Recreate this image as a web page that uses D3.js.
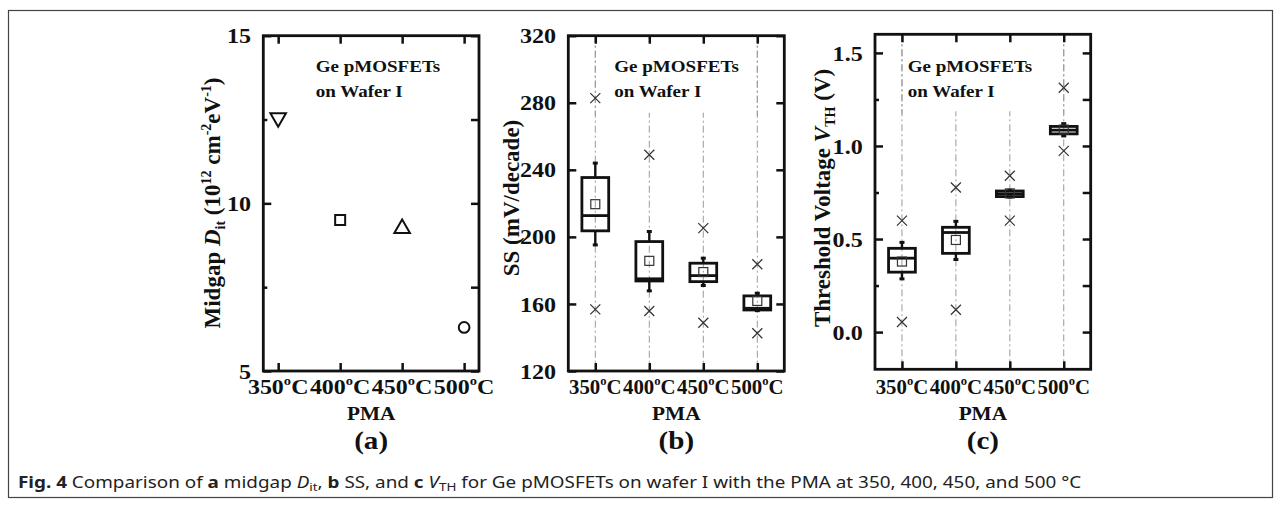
<!DOCTYPE html>
<html>
<head>
<meta charset="utf-8">
<script src="https://cdn.jsdelivr.net/npm/d3@7"></script>
<style>
  body { margin: 0; background: #fff; }
  svg text { font-family: "Liberation Serif", "Times New Roman", serif; font-weight: bold; fill: #111; }
</style>
</head>
<body>
<svg id="chart" width="1281" height="508"></svg>
<script>
// PMA temperatures (categories, same for all three panels)
var temps = ["350", "400", "450", "500"];

// (a) midgap Dit, 10^12 cm^-2 eV^-1
var ditValues = [12.55, 9.5, 9.25, 6.3];
var ditMarkers = ["triDown", "square", "triUp", "circle"];

// (b) SS in mV/decade: whiskers, box, median, mean, min/max crosses
var ssLo   = [195.2, 167.8, 171.0, 156.0];
var ssQ1   = [203.6, 173.7, 173.3, 156.4];
var ssMed  = [212.7, 175.0, 176.9, 157.4];
var ssQ3   = [235.4, 197.2, 184.3, 164.8];
var ssHi   = [244.0, 203.2, 187.3, 166.4];
var ssMean = [219.5, 185.7, 179.0, 161.8];
var ssMin  = [156.8, 155.8, 148.8, 142.5];
var ssMax  = [282.8, 249.0, 205.2, 183.7];

// (c) threshold voltage in V
var vtLo   = [0.286, 0.39, 0.725, 1.054];
var vtQ1   = [0.322, 0.423, 0.728, 1.065];
var vtMed  = [0.397, 0.535, 0.743, 1.085];
var vtQ3   = [0.45, 0.563, 0.758, 1.105];
var vtHi   = [0.482, 0.595, 0.762, 1.12];
var vtMean = [0.379, 0.495, 0.745, 1.088];
var vtMin  = [0.054, 0.12, 0.599, 0.974];
var vtMax  = [0.599, 0.777, 0.84, 1.313];

var svg = d3.select("#chart");
svg.append("rect").attr("width", 1281).attr("height", 508).attr("fill", "#fff");

// figure frame
svg.append("rect")
  .attr("x", 8.5).attr("y", 10.5)
  .attr("width", 1264).attr("height", 487)
  .attr("fill", "none").attr("stroke", "#444").attr("stroke-width", 1.2);

var SX = 1.12; // horizontal stretch of the original serif lettering

function addRich(text, parts) {
  var cur = 0;
  parts.forEach(function(pt) {
    var ts = text.append("tspan").text(pt.t);
    var sh = pt.shift || 0;
    if (sh !== cur) { ts.attr("dy", sh - cur); cur = sh; }
    if (pt.size) ts.style("font-size", pt.size + "px");
    if (pt.italic) ts.style("font-style", "italic");
    if (pt.normal) ts.style("font-weight", "normal");
    if (pt.bold) ts.style("font-weight", "bold");
  });
}

function drawPanel(p) {
  var x = d3.scaleLinear().domain(p.xDomain).range([p.left, p.left + p.width]);
  var y = d3.scaleLinear().domain(p.yDomain).range([p.top + p.height, p.top]);
  var g = svg.append("g");
  var idx = d3.range(temps.length);

  if (p.grid) {
    g.selectAll("line.grid").data(idx).join("line")
      .attr("class", "grid")
      .attr("x1", function(i) { return x(i); }).attr("x2", function(i) { return x(i); })
      .attr("y1", p.top).attr("y2", p.top + p.height)
      .attr("stroke", "#9a9a9a").attr("stroke-width", 1)
      .attr("stroke-dasharray", "7,3,2,3");
  }

  // white patch behind the in-plot title (hides the grid lines there)
  g.append("rect")
    .attr("x", p.left + p.titleX - 4).attr("y", p.top + 3)
    .attr("width", 124).attr("height", 74)
    .attr("fill", "#fff");
  if (p.grid) {
    g.selectAll("line.grid2").data(idx.filter(function(i) { return x(i) < p.left + p.titleX - 4 || x(i) > p.left + p.titleX + 120; }))
      .join("line")
      .attr("x1", function(i) { return x(i); }).attr("x2", function(i) { return x(i); })
      .attr("y1", p.top).attr("y2", p.top + 80)
      .attr("stroke", "#9a9a9a").attr("stroke-width", 1)
      .attr("stroke-dasharray", "7,3,2,3");
  }

  var tx = p.left + p.titleX;
  var title = g.append("text")
    .attr("transform", "translate(" + tx + ",0) scale(" + SX + ",1)")
    .style("font-size", "17px");
  title.append("tspan").attr("x", 0).attr("y", 72.5).text("Ge pMOSFETs");
  title.append("tspan").attr("x", 0).attr("y", 97.5).text("on Wafer I");

  var allY = p.yTicks.concat(p.yMinor);

  var axL = g.append("g").attr("transform", "translate(" + p.left + ",0)")
    .call(d3.axisLeft(y).tickValues(p.yTicks).tickSize(-8).tickPadding(11).tickFormat(p.fmt));
  axL.selectAll("text")
    .style("font-size", "21.5px")
    .attr("dy", "0.33em")
    .attr("transform", "scale(" + SX + ",1)");
  g.append("g").attr("transform", "translate(" + p.left + ",0)")
    .call(d3.axisLeft(y).tickValues(p.yMinor).tickSize(-4).tickFormat(""));
  g.append("g").attr("transform", "translate(" + (p.left + p.width) + ",0)")
    .call(d3.axisRight(y).tickValues(allY).tickSize(-8).tickFormat(""));
  g.append("g").attr("transform", "translate(0," + p.top + ")")
    .call(d3.axisTop(x).tickValues(idx).tickSize(-8).tickFormat(""));
  g.append("g").attr("transform", "translate(0," + (p.top + p.height) + ")")
    .call(d3.axisBottom(x).tickValues(idx).tickSize(-8).tickFormat(""));

  g.selectAll(".domain").remove();
  g.selectAll(".tick line").attr("stroke", "#111").attr("stroke-width", 2.5);

  g.append("rect")
    .attr("x", p.left).attr("y", p.top)
    .attr("width", p.width).attr("height", p.height)
    .attr("fill", "none").attr("stroke", "#111").attr("stroke-width", 2.8);

  // category labels, "o" raised like the original; squeezed so neighbours don't collide
  var step = x(1) - x(0);
  var lsx = Math.min(SX, (step - 1.5) / 54.2);
  idx.forEach(function(i) {
    var t = g.append("text")
      .attr("transform", "translate(" + x(i) + ",394) scale(" + lsx + ",1)")
      .attr("text-anchor", "middle")
      .style("font-size", "21.5px");
    addRich(t, [{ t: temps[i] }, { t: "o", size: 13, shift: -9 }, { t: "C", shift: 0 }]);
  });

  var cx = p.left + p.width / 2;
  g.append("text").attr("text-anchor", "middle")
    .attr("transform", "translate(" + cx + ",420) scale(" + SX + ",1)")
    .style("font-size", "19px").text("PMA");
  g.append("text").attr("text-anchor", "middle")
    .attr("transform", "translate(" + cx + ",449) scale(" + SX + ",1)")
    .style("font-size", "26px").text(p.tag);

  var yl = g.append("text").attr("text-anchor", "middle")
    .attr("transform", "translate(" + p.ylabX + "," + p.ylabY + ") rotate(-90)")
    .style("font-size", "23px");
  addRich(yl, p.ylab);

  return { x: x, y: y, g: g };
}

function drawBoxes(pl, lo, q1, med, q3, hi, mean, mn, mx) {
  var x = pl.x, y = pl.y, hw = 13.4;
  var rows = temps.map(function(t, i) {
    return { i: i, lo: lo[i], q1: q1[i], med: med[i], q3: q3[i], hi: hi[i], mean: mean[i], mn: mn[i], mx: mx[i] };
  });
  var b = pl.g.selectAll("g.box").data(rows).join("g").attr("class", "box");
  b.append("line")
    .attr("x1", function(d) { return x(d.i); }).attr("x2", function(d) { return x(d.i); })
    .attr("y1", function(d) { return y(d.hi); }).attr("y2", function(d) { return y(d.q3); })
    .attr("stroke", "#111").attr("stroke-width", 2.4);
  b.append("line")
    .attr("x1", function(d) { return x(d.i); }).attr("x2", function(d) { return x(d.i); })
    .attr("y1", function(d) { return y(d.q1); }).attr("y2", function(d) { return y(d.lo); })
    .attr("stroke", "#111").attr("stroke-width", 2.4);
  ["hi", "lo"].forEach(function(k) {
    b.append("line")
      .attr("x1", function(d) { return x(d.i) - 2.5; }).attr("x2", function(d) { return x(d.i) + 2.5; })
      .attr("y1", function(d) { return y(d[k]); }).attr("y2", function(d) { return y(d[k]); })
      .attr("stroke", "#111").attr("stroke-width", 3);
  });
  b.append("rect")
    .attr("x", function(d) { return x(d.i) - hw; })
    .attr("y", function(d) { return y(d.q3); })
    .attr("width", 2 * hw)
    .attr("height", function(d) { return y(d.q1) - y(d.q3); })
    .attr("fill", "none").attr("stroke", "#111").attr("stroke-width", 2.8);
  b.append("line")
    .attr("x1", function(d) { return x(d.i) - hw; }).attr("x2", function(d) { return x(d.i) + hw; })
    .attr("y1", function(d) { return y(d.med); }).attr("y2", function(d) { return y(d.med); })
    .attr("stroke", "#111").attr("stroke-width", 2.8);
  b.append("rect")
    .attr("x", function(d) { return x(d.i) - 4.5; })
    .attr("y", function(d) { return y(d.mean) - 4.5; })
    .attr("width", 9).attr("height", 9)
    .attr("fill", "none").attr("stroke", "#333").attr("stroke-width", 1.2);
  ["mn", "mx"].forEach(function(k) {
    b.append("path")
      .attr("transform", function(d) { return "translate(" + x(d.i) + "," + y(d[k]) + ")"; })
      .attr("d", "M-5,-5L5,5M-5,5L5,-5")
      .attr("stroke", "#333").attr("stroke-width", 1.2);
  });
}

// panel (a)
var pa = drawPanel({
  left: 263.3, top: 35.7, width: 215.7, height: 335.3,
  xDomain: [-0.24, 3.24], yDomain: [5, 15],
  yTicks: [5, 10, 15], yMinor: [7.5, 12.5], fmt: d3.format("d"),
  grid: false, titleX: 52.4, tag: "(a)",
  ylabX: 220, ylabY: 203,
  ylab: [{ t: "Midgap " }, { t: "D", italic: true }, { t: "it", size: 14, shift: 5 },
         { t: " (10", shift: 0 }, { t: "12", size: 14, shift: -9 }, { t: " cm", shift: 0 },
         { t: "-2", size: 14, shift: -9 }, { t: "eV", shift: 0 }, { t: "-1", size: 14, shift: -9 },
         { t: ")", shift: 0 }]
});

var symbolFor = {
  triDown: d3.symbol().type(d3.symbolTriangle).size(105),
  triUp: d3.symbol().type(d3.symbolTriangle).size(105),
  square: d3.symbol().type(d3.symbolSquare).size(100),
  circle: d3.symbol().type(d3.symbolCircle).size(90)
};
pa.g.selectAll("path.dit").data(ditValues).join("path")
  .attr("class", "dit")
  .attr("transform", function(d, i) {
    return "translate(" + pa.x(i) + "," + pa.y(d) + ")" + (ditMarkers[i] === "triDown" ? " rotate(180)" : "");
  })
  .attr("d", function(d, i) { return symbolFor[ditMarkers[i]](); })
  .attr("fill", "none").attr("stroke", "#111").attr("stroke-width", 2);

// panel (b)
var pb = drawPanel({
  left: 568.3, top: 35.7, width: 216, height: 335.3,
  xDomain: [-0.5, 3.5], yDomain: [120, 320],
  yTicks: [120, 160, 200, 240, 280, 320], yMinor: [], fmt: d3.format("d"),
  grid: true, titleX: 46, tag: "(b)",
  ylabX: 519, ylabY: 198,
  ylab: [{ t: "SS (mV/decade)" }]
});
drawBoxes(pb, ssLo, ssQ1, ssMed, ssQ3, ssHi, ssMean, ssMin, ssMax);

// panel (c)
var pc = drawPanel({
  left: 875, top: 34.3, width: 215.7, height: 335,
  xDomain: [-0.5, 3.5], yDomain: [-0.2, 1.6],
  yTicks: [0, 0.5, 1, 1.5], yMinor: [0.25, 0.75, 1.25], fmt: d3.format(".1f"),
  grid: true, titleX: 32.7, tag: "(c)",
  ylabX: 830, ylabY: 198,
  ylab: [{ t: "Threshold Voltage " }, { t: "V", italic: true }, { t: "TH", size: 14, shift: 5 },
         { t: " (V)", shift: 0 }]
});
drawBoxes(pc, vtLo, vtQ1, vtMed, vtQ3, vtHi, vtMean, vtMin, vtMax);

// caption
var cap = svg.append("text")
  .style("font-family", "'Noto Sans', 'Open Sans', sans-serif")
  .style("font-weight", "normal")
  .style("font-size", "15.5px")
  .style("fill", "#222");
addRich(cap, [
  { t: "Fig. 4", bold: true }, { t: " Comparison of " }, { t: "a", bold: true }, { t: " midgap " },
  { t: "D", italic: true }, { t: "it", size: 11, shift: 3 }, { t: ", ", shift: 0 },
  { t: "b", bold: true }, { t: " SS, and " }, { t: "c", bold: true }, { t: " " },
  { t: "V", italic: true }, { t: "TH", size: 11, shift: 3 },
  { t: " for Ge pMOSFETs on wafer I with the PMA at 350, 400, 450, and 500 \u00B0C", shift: 0 }
]);
var capLen = cap.node().getComputedTextLength();
cap.attr("transform", "translate(18,488) scale(" + (1064 / capLen) + ",1)");
</script>
</body>
</html>
